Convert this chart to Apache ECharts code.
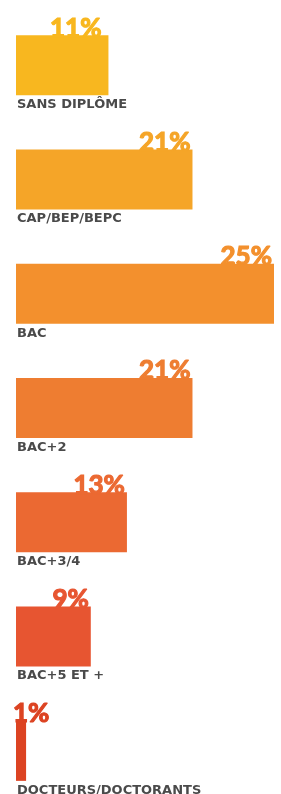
<!DOCTYPE html>
<html>
<head>
<meta charset="utf-8">
<script src="https://cdn.jsdelivr.net/npm/echarts@6/dist/echarts.min.js"></script>
<style>
  html, body { margin: 0; padding: 0; background: #fff; }
  #chart { width: 281px; height: 794px; }
</style>
</head>
<body>
<div id="chart"></div>
<script>
// niveaux de diplôme
const categories = ['SANS DIPLÔME', 'CAP/BEP/BEPC', 'BAC', 'BAC+2', 'BAC+3/4', 'BAC+5 ET +', 'DOCTEURS/DOCTORANTS'];
// pourcentages affichés
const percents = [11, 21, 25, 21, 13, 9, 1];
// longueur des barres telle que dessinée sur l'image
const barLengths = [11, 21, 30.7, 21, 13.2, 8.9, 1.2];
const colors = ['#F8B71F', '#F5A528', '#F3902D', '#EE7D31', '#EB6932', '#E75531', '#DC4322'];

const chart = echarts.init(document.getElementById('chart'));

const pctData = barLengths.map((v, i) => {
  const c = colors[i];
  const item = { value: v, itemStyle: { color: c }, label: { color: c, textBorderColor: c } };
  if (i === 0) item.label.offset = [-7, 6];
  if (percents[i] < 5) {
    item.label.position = [-3, 0];
    item.label.align = 'left';
    item.label.offset = [0, 6];
  }
  return item;
});

chart.setOption({
  animation: false,
  grid: { left: 16, width: 258, top: 8, height: 800, outerBoundsMode: 'none', containLabel: false },
  xAxis: { type: 'value', min: 0, max: 30.7, show: false },
  yAxis: { type: 'category', data: categories, inverse: true, show: false },
  series: [
    {
      type: 'bar',
      barWidth: 60,
      data: pctData,
      z: 2,
      label: {
        show: true,
        position: ['100%', 0],
        align: 'right',
        verticalAlign: 'bottom',
        offset: [-2, 6],
        fontFamily: 'Lato',
        fontWeight: 'bold',
        fontSize: 26,
        textBorderWidth: 1.2,
        formatter: (p) => percents[p.dataIndex] + '%'
      }
    },
    {
      // série invisible pour les libellés sous les barres
      type: 'bar',
      barWidth: 60,
      barGap: '-100%',
      data: barLengths,
      itemStyle: { color: 'rgba(0,0,0,0)' },
      silent: true,
      label: {
        show: true,
        position: ['0%', '100%'],
        align: 'left',
        verticalAlign: 'top',
        offset: [1, 3],
        color: '#4A4A4A',
        fontFamily: 'DejaVu Sans',
        fontWeight: 'bold',
        fontSize: 13,
        formatter: '{b}'
      }
    }
  ]
});
</script>
</body>
</html>
